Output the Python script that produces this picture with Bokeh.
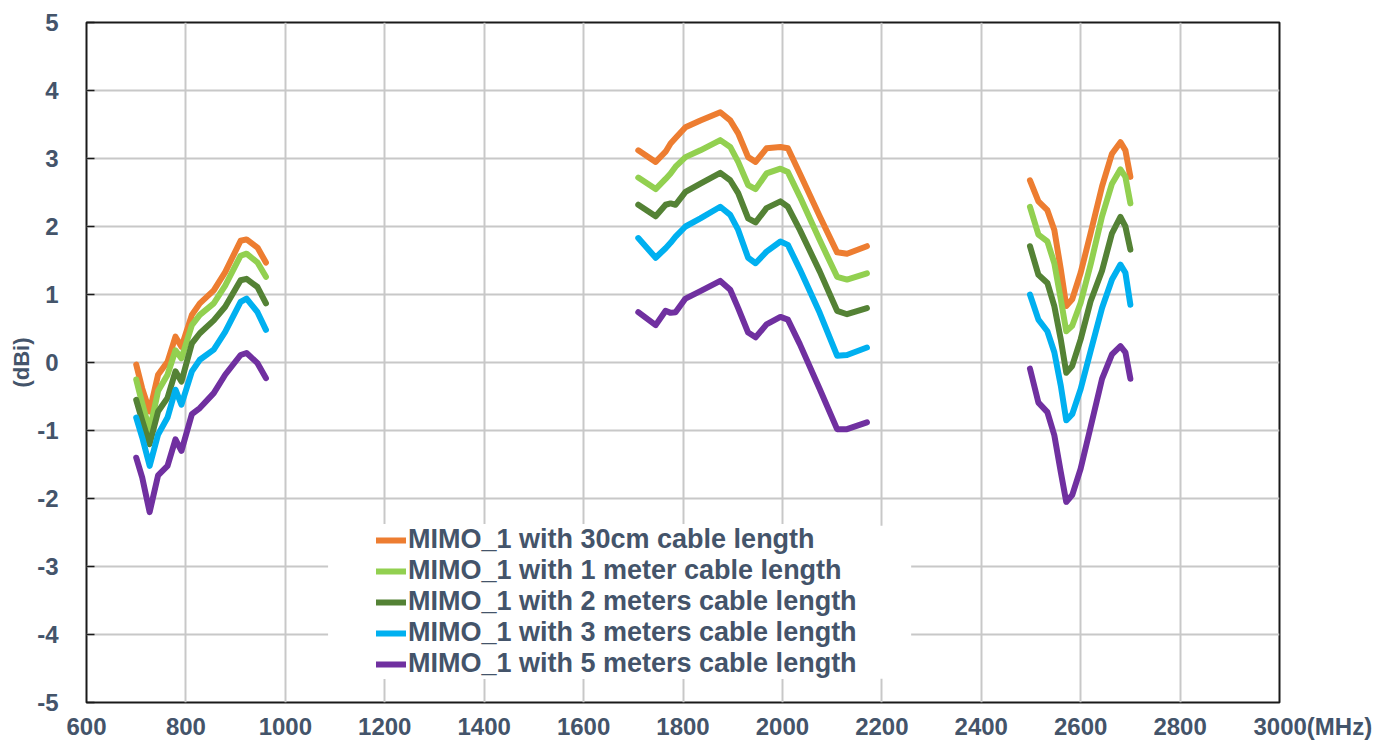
from bokeh.plotting import figure
from bokeh.models import (Range1d, Legend, LegendItem, BoxAnnotation, FixedTicker,
                          CustomJSTickFormatter)
from bokeh.embed import file_html
from bokeh.resources import INLINE

NAN = float("nan")

# Frequencies (MHz) for the three bands
freq_low = [700, 712, 727, 744, 763, 779, 791, 812, 828, 856, 879, 910, 922, 944, 961]
freq_mid = [1710, 1745, 1765, 1775, 1785, 1805, 1835, 1875, 1895, 1911, 1931, 1946,
            1968, 1996, 2011, 2035, 2075, 2110, 2130, 2170]
freq_high = [2498, 2515, 2533, 2547, 2560, 2571, 2583, 2600, 2620, 2643, 2663, 2680, 2690, 2700]

# Gain (dBi)
cm30_low = [-0.03, -0.38, -0.72, -0.18, 0.01, 0.38, 0.23, 0.70, 0.87, 1.06, 1.33, 1.79, 1.81, 1.69, 1.47]
cm30_mid = [3.12, 2.95, 3.10, 3.22, 3.30, 3.46, 3.56, 3.68, 3.56, 3.37, 3.02, 2.95,
            3.15, 3.17, 3.15, 2.78, 2.15, 1.62, 1.60, 1.71]
cm30_high = [2.68, 2.37, 2.24, 1.95, 1.37, 0.83, 0.93, 1.32, 1.90, 2.59, 3.07, 3.24, 3.12, 2.73]

m1_low = [-0.25, -0.60, -1.00, -0.42, -0.18, 0.18, 0.06, 0.55, 0.70, 0.87, 1.13, 1.57, 1.60, 1.47, 1.26]
m1_mid = [2.72, 2.55, 2.70, 2.78, 2.88, 3.02, 3.12, 3.27, 3.17, 2.95, 2.61, 2.55,
          2.78, 2.85, 2.80, 2.44, 1.80, 1.26, 1.22, 1.31]
m1_high = [2.29, 1.88, 1.78, 1.46, 0.93, 0.46, 0.54, 0.88, 1.44, 2.15, 2.63, 2.84, 2.73, 2.34]

m2_low = [-0.55, -0.85, -1.20, -0.72, -0.52, -0.13, -0.28, 0.28, 0.43, 0.62, 0.82, 1.21, 1.23, 1.11, 0.87]
m2_mid = [2.32, 2.15, 2.32, 2.34, 2.32, 2.51, 2.63, 2.79, 2.68, 2.49, 2.12, 2.06,
          2.27, 2.37, 2.29, 1.95, 1.34, 0.76, 0.71, 0.80]
m2_high = [1.71, 1.29, 1.17, 0.83, 0.34, -0.15, -0.05, 0.34, 0.90, 1.35, 1.90, 2.14, 2.00, 1.66]

m3_low = [-0.81, -1.10, -1.52, -1.06, -0.81, -0.40, -0.62, -0.13, 0.04, 0.19, 0.45, 0.89, 0.94, 0.74, 0.48]
m3_mid = [1.83, 1.54, 1.68, 1.76, 1.85, 2.00, 2.12, 2.29, 2.17, 1.95, 1.54, 1.46,
          1.63, 1.78, 1.73, 1.37, 0.73, 0.10, 0.11, 0.22]
m3_high = [1.00, 0.63, 0.46, 0.15, -0.34, -0.85, -0.76, -0.39, 0.17, 0.80, 1.22, 1.44, 1.32, 0.85]

m5_low = [-1.40, -1.69, -2.20, -1.66, -1.52, -1.13, -1.30, -0.76, -0.67, -0.45, -0.18, 0.11, 0.14, -0.01, -0.23]
m5_mid = [0.74, 0.55, 0.76, 0.73, 0.74, 0.94, 1.05, 1.20, 1.07, 0.80, 0.44, 0.37,
          0.56, 0.67, 0.63, 0.27, -0.39, -0.98, -0.98, -0.88]
m5_high = [-0.09, -0.59, -0.73, -1.07, -1.61, -2.05, -1.95, -1.56, -0.95, -0.24, 0.12, 0.24, 0.15, -0.24]

series_names = [
    "MIMO_1 with 30cm cable length",
    "MIMO_1 with 1 meter cable length",
    "MIMO_1 with 2 meters cable length",
    "MIMO_1 with 3 meters cable length",
    "MIMO_1 with 5 meters cable length",
]
series_colors = ["#ED7D31", "#92D050", "#548235", "#00B0F0", "#7030A0"]
series_values = [
    (cm30_low, cm30_mid, cm30_high),
    (m1_low, m1_mid, m1_high),
    (m2_low, m2_mid, m2_high),
    (m3_low, m3_mid, m3_high),
    (m5_low, m5_mid, m5_high),
]

x_ticks = [600, 800, 1000, 1200, 1400, 1600, 1800, 2000, 2200, 2400, 2600, 2800, 3000]
y_ticks = [-5, -4, -3, -2, -1, 0, 1, 2, 3, 4, 5]

FONT = "Liberation Sans"
TXT = "#44546A"

p = figure(width=1388, height=742, output_backend="svg", toolbar_location=None,
           x_range=Range1d(600, 3000), y_range=Range1d(-5, 5),
           min_border_left=86, min_border_right=109, min_border_top=22, min_border_bottom=38)
p.background_fill_color = "white"
p.border_fill_color = "white"
p.outline_line_color = "#1a1a1a"
p.outline_line_width = 2

p.xaxis.ticker = FixedTicker(ticks=x_ticks)
p.yaxis.ticker = FixedTicker(ticks=y_ticks)
p.xaxis.formatter = CustomJSTickFormatter(code="""
    if (tick == 3000) { return '\\u00a0'.repeat(10) + '3000(MHz)'; }
    return String(tick);
""")
p.yaxis.formatter = CustomJSTickFormatter(code="return String(tick);")

for ax in (p.xaxis[0], p.yaxis[0]):
    ax.axis_line_color = None
    ax.minor_tick_line_color = None
    ax.major_label_text_font = FONT
    ax.major_label_text_font_style = "bold"
    ax.major_label_text_font_size = "24px"
    ax.major_label_text_color = TXT
    ax.major_tick_out = 0
p.xaxis.major_tick_in = 0
p.xaxis.major_label_standoff = 10
p.yaxis.major_tick_in = 8
p.yaxis.major_tick_line_color = "#1a1a1a"
p.yaxis.major_tick_line_width = 1.5
p.yaxis.major_label_standoff = 28
p.yaxis.axis_label = "(dBi)"
p.yaxis.axis_label_text_font = FONT
p.yaxis.axis_label_text_font_style = "bold"
p.yaxis.axis_label_text_font_size = "22px"
p.yaxis.axis_label_text_color = TXT
p.yaxis.axis_label_standoff = 0

for g in (p.xgrid[0], p.ygrid[0]):
    g.grid_line_color = "#C8C8C8"
    g.grid_line_width = 2

renderers = []
for name, color, (lo, mid, hi) in zip(series_names, series_colors, series_values):
    xs = freq_low + [NAN] + freq_mid + [NAN] + freq_high
    ys = lo + [NAN] + mid + [NAN] + hi
    r = p.line(xs, ys, line_color=color, line_width=6, line_join="round", line_cap="round")
    renderers.append(r)

# white background behind the legend
box = BoxAnnotation(left=1086, right=2259, top=-2.40, bottom=-4.65,
                    fill_color="white", fill_alpha=1.0, line_color=None)
p.add_layout(box)

legend = Legend(items=[LegendItem(label=n, renderers=[r]) for n, r in zip(series_names, renderers)],
                location=(290, 23), orientation="vertical",
                label_text_font=FONT, label_text_font_style="bold", label_text_font_size="27px",
                label_text_color=TXT, glyph_width=30, glyph_height=30, label_height=30,
                spacing=0, padding=2, margin=0, label_standoff=2,
                background_fill_color="white", background_fill_alpha=1.0, border_line_color=None)
p.add_layout(legend)

open("out.html", "w").write(file_html(p, INLINE))
